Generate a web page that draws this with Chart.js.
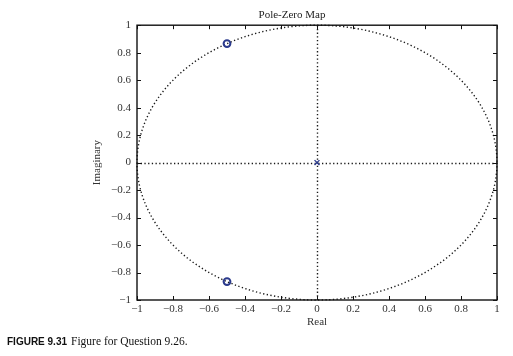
<!DOCTYPE html>
<html>
<head>
<meta charset="utf-8">
<script src="https://cdn.jsdelivr.net/npm/chart.js@4/dist/chart.umd.min.js"></script>
<style>
html,body{margin:0;padding:0;background:#fff;}
canvas{display:block;}
</style>
</head>
<body>
<canvas id="c" width="513" height="356"></canvas>
<script>
// Data
const zerosReal = [-0.5, -0.5];
const zerosImag = [0.866, -0.866];
const polesReal = [0];
const polesImag = [0];
const xTicks = [-1, -0.8, -0.6, -0.4, -0.2, 0, 0.2, 0.4, 0.6, 0.8, 1];
const yTicks = [-1, -0.8, -0.6, -0.4, -0.2, 0, 0.2, 0.4, 0.6, 0.8, 1];
const titleText = 'Pole-Zero Map';
const xLabel = 'Real';
const yLabel = 'Imaginary';
const captionBold = 'FIGURE 9.31';
const captionText = 'Figure for Question 9.26.';

const SERIF = '"Liberation Serif", "DejaVu Serif", serif';
const markerColor = '#2b3a8c';

function fmt(v){
  const r = Math.round(v*10)/10;
  return (r < 0 ? '\u2212' + Math.abs(r) : String(r));
}

const pzPlugin = {
  id: 'pz',
  beforeDatasetsDraw(chart){
    const ctx = chart.ctx, xs = chart.scales.x, ys = chart.scales.y, a = chart.chartArea;
    const cx = xs.getPixelForValue(0), cy = ys.getPixelForValue(0);
    const rx = xs.getPixelForValue(1) - cx, ry = cy - ys.getPixelForValue(1);
    ctx.save();
    ctx.strokeStyle = '#1a1a1a';
    ctx.lineWidth = 1.4;
    ctx.setLineDash([1.3, 2.4]);
    ctx.beginPath();
    ctx.ellipse(cx, cy, rx, ry, 0, 0, Math.PI*2);
    ctx.stroke();
    ctx.beginPath();
    ctx.moveTo(a.left, Math.round(cy) + 0.5); ctx.lineTo(a.right, Math.round(cy) + 0.5);
    ctx.moveTo(Math.round(cx) + 0.5, a.top); ctx.lineTo(Math.round(cx) + 0.5, a.bottom);
    ctx.stroke();
    ctx.setLineDash([]);
    // box
    ctx.strokeStyle = '#111';
    ctx.lineWidth = 1.4;
    ctx.strokeRect(a.left, a.top, a.right - a.left, a.bottom - a.top);
    // inward ticks
    ctx.lineWidth = 1;
    ctx.beginPath();
    const tl = 4;
    xTicks.forEach(v => {
      const px = Math.round(xs.getPixelForValue(v)) + 0.5;
      ctx.moveTo(px, a.bottom); ctx.lineTo(px, a.bottom - tl);
      ctx.moveTo(px, a.top); ctx.lineTo(px, a.top + tl);
    });
    yTicks.forEach(v => {
      const py = Math.round(ys.getPixelForValue(v)) + 0.5;
      ctx.moveTo(a.left, py); ctx.lineTo(a.left + tl, py);
      ctx.moveTo(a.right, py); ctx.lineTo(a.right - tl, py);
    });
    ctx.stroke();
    ctx.restore();
  },
  afterDraw(chart){
    const ctx = chart.ctx;
    ctx.save();
    ctx.fillStyle = '#111';
    ctx.textBaseline = 'alphabetic';
    ctx.font = 'bold 10px "Liberation Sans", Arial, sans-serif';
    ctx.fillText(captionBold, 7, 345);
    const w = ctx.measureText(captionBold).width;
    ctx.font = '11.5px ' + SERIF;
    ctx.fillText(captionText, 71, 345);
    ctx.restore();
  }
};

new Chart(document.getElementById('c'), {
  type: 'scatter',
  data: {
    datasets: [
      {
        label: 'zeros',
        data: zerosReal.map((x, i) => ({x, y: zerosImag[i]})),
        pointStyle: 'circle',
        pointRadius: 3.4,
        borderColor: markerColor,
        backgroundColor: 'rgba(255,255,255,0)',
        pointBorderWidth: 2
      },
      {
        label: 'poles',
        data: polesReal.map((x, i) => ({x, y: polesImag[i]})),
        pointStyle: 'crossRot',
        pointRadius: 3.5,
        borderColor: markerColor,
        pointBorderWidth: 1.4
      }
    ]
  },
  options: {
    responsive: false,
    animation: false,
    layout: { padding: { left: 87, right: 16, top: 0, bottom: 26 } },
    plugins: {
      legend: { display: false },
      tooltip: { enabled: false },
      title: {
        display: true,
        text: titleText,
        color: '#222',
        font: { family: SERIF, size: 11, weight: 'normal', lineHeight: 1.2 },
        padding: { top: 9, bottom: 3 }
      }
    },
    scales: {
      x: {
        type: 'linear',
        min: -1, max: 1,
        afterBuildTicks: s => { s.ticks = xTicks.map(v => ({value: v})); },
        afterFit: s => { s.height = 30; },
        grid: { display: false, drawTicks: false },
        border: { display: false },
        ticks: {
          padding: 3,
          color: '#333',
          maxRotation: 0,
          autoSkip: false,
          font: { family: SERIF, size: 11 },
          callback: v => fmt(v)
        },
        title: {
          display: true,
          text: xLabel,
          color: '#333',
          font: { family: SERIF, size: 11, lineHeight: 1.2 },
          padding: { top: 0, bottom: 1 }
        }
      },
      y: {
        type: 'linear',
        min: -1, max: 1,
        afterBuildTicks: s => { s.ticks = yTicks.map(v => ({value: v})); },
        afterFit: s => { s.width = 50; },
        grid: { display: false, drawTicks: false },
        border: { display: false },
        ticks: {
          padding: 6,
          color: '#333',
          autoSkip: false,
          font: { family: SERIF, size: 11 },
          callback: v => fmt(v)
        },
        title: {
          display: true,
          text: yLabel,
          color: '#333',
          font: { family: SERIF, size: 11, lineHeight: 1.2 },
          padding: { top: 4, bottom: 0 }
        }
      }
    }
  },
  plugins: [pzPlugin]
});
</script>
</body>
</html>
